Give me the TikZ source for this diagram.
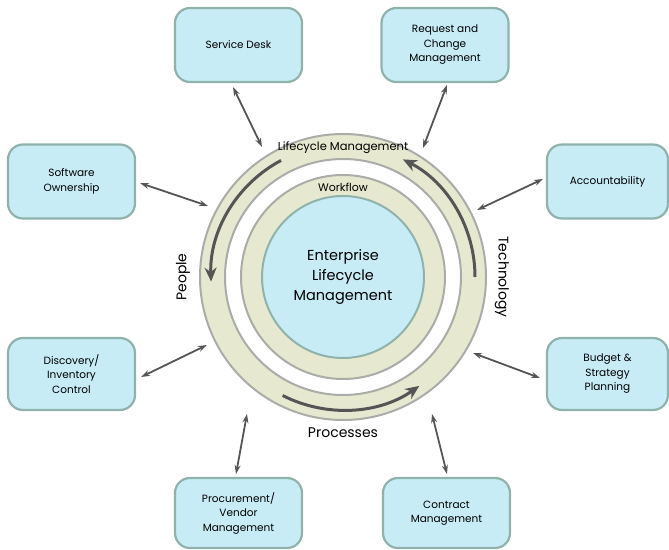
\documentclass[tikz,border=0pt]{standalone}
\usepackage{fontspec}
\setmainfont{Poppins}
\usetikzlibrary{arrows.meta,calc}
\definecolor{boxfill}{HTML}{C8ECF6}
\definecolor{boxline}{HTML}{8FB3AA}
\definecolor{ringfill}{HTML}{E6E9D0}
\definecolor{ringline}{HTML}{AAACA8}
\definecolor{arrowgray}{HTML}{555555}
\tikzset{
  box/.style={draw=boxline, fill=boxfill, line width=2.2pt, rounded corners=15pt,
    minimum width=127pt, minimum height=74pt, align=center, font=\fontsize{10.5}{14.5}\selectfont, inner sep=2pt},
  link/.style={draw=arrowgray, line width=1.8pt, {Stealth[length=9pt,width=6pt]}-{Stealth[length=9pt,width=6pt]}},
  cycle/.style={draw=arrowgray, line width=3pt, -{Stealth[length=14pt,width=12pt]}},
  ringtxt/.style={font=\fontsize{11.5}{13}\selectfont},
  sidetxt/.style={font=\fontsize{14}{16}\selectfont}
}
\begin{document}
\begin{tikzpicture}[x=1pt,y=1pt]
\useasboundingbox (0,0) rectangle (669,549);
\coordinate (c) at (343,272);
% rings
\fill[ringfill] (c) circle (143);
\draw[ringline, line width=2pt] (c) circle (143);
\draw[ringline, line width=2pt, fill=white] (c) circle (118);
\draw[ringline, line width=2pt, fill=ringfill] (c) circle (102);
\node[circle, draw=boxline, fill=boxfill, line width=2pt, minimum size=162pt, align=center,
  font=\fontsize{14.5}{20}\selectfont] (core) at (c) {Enterprise\\Lifecycle\\Management};
\node[ringtxt] (lm) at (343,401) {Lifecycle Management};
\node[font=\fontsize{11}{13}\selectfont] (wf) at (343,362) {Workflow};
\node[sidetxt, rotate=90] (people) at (183,272) {People};
\node[sidetxt, rotate=-90] (tech) at (502,272) {Technology};
\node[sidetxt] (proc) at (343,116) {Processes};
% cycle arrows
\draw[cycle] ($(c)+(118:132)$) arc[start angle=118, end angle=182, radius=132];
\draw[cycle] ($(c)+(0:132)$) arc[start angle=0, end angle=63, radius=132];
\draw[cycle] ($(c)+(243:133)$) arc[start angle=243, end angle=305, radius=133];
% boxes
\node[box] (sd) at (238.5,504) {Service Desk};
\node[box] (rc) at (445,504) {Request and\\Change\\Management};
\node[box] (so) at (71.5,367.5) {Software\\Ownership};
\node[box, minimum width=121pt] (ac) at (607.5,367.5) {Accountability};
\node[box, minimum height=72pt] (dc) at (71.5,175) {Discovery/\\Inventory\\Control};
\node[box, minimum width=121pt, minimum height=72pt] (bs) at (607.5,175) {Budget \&\\Strategy\\Planning};
\node[box, minimum height=70pt] (pv) at (238.5,36) {Procurement/\\Vendor\\Management};
\node[box, minimum height=70pt] (cm) at (446.5,36) {Contract\\Management};
% connector ends
\coordinate (sd1) at (233,462); \coordinate (sd2) at (262,402);
\coordinate (rc1) at (447,464); \coordinate (rc2) at (423,401);
\coordinate (so1) at (140,366); \coordinate (so2) at (208,343);
\coordinate (ac1) at (543,370); \coordinate (ac2) at (477,339);
\coordinate (dc1) at (141,172); \coordinate (dc2) at (207,204);
\coordinate (bs1) at (540,171); \coordinate (bs2) at (473,196);
\coordinate (pv1) at (236,75);  \coordinate (pv2) at (247,135);
\coordinate (cm1) at (447,75);  \coordinate (cm2) at (432,135);
\draw[link] (sd1) -- (sd2);
\draw[link] (rc1) -- (rc2);
\draw[link] (so1) -- (so2);
\draw[link] (ac1) -- (ac2);
\draw[link] (dc1) -- (dc2);
\draw[link] (bs1) -- (bs2);
\draw[link] (pv1) -- (pv2);
\draw[link] (cm1) -- (cm2);
\end{tikzpicture}
\end{document}
